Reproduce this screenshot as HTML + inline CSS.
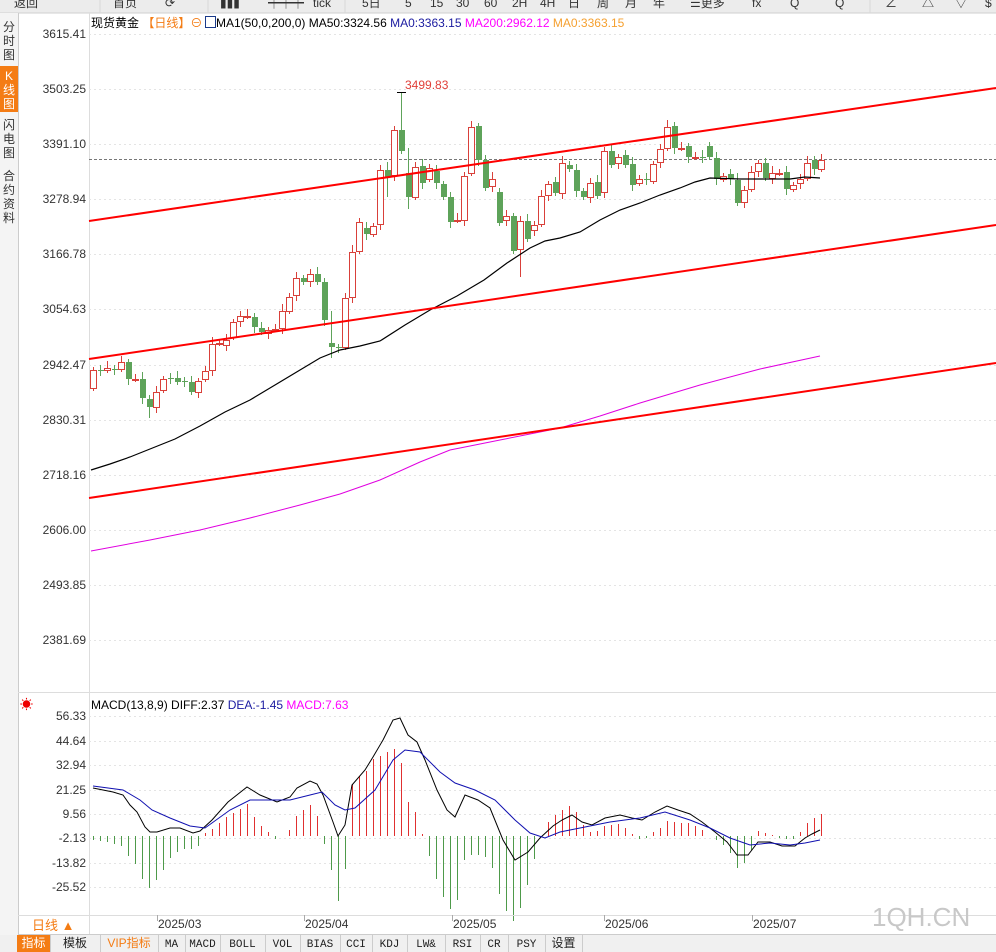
<!DOCTYPE html>
<html><head><meta charset="utf-8">
<style>
html,body{margin:0;padding:0;width:996px;height:952px;overflow:hidden;background:#fff;font-family:"Liberation Sans","Noto Sans CJK SC",sans-serif;}
svg text{font-family:"Liberation Sans","Noto Sans CJK SC",sans-serif;}
</style></head><body>
<svg id="s" width="996" height="952" xmlns="http://www.w3.org/2000/svg">
<rect x="0" y="0" width="996" height="13" fill="#ececec"/>
<line x1="0" y1="13" x2="996" y2="13" stroke="#cfcfcf"/>
<g font-size="12" fill="#333">
<text x="14" y="7">返回</text><text x="113" y="7">首页</text><text x="165" y="7">⟳</text>
<text x="220" y="7">▮▮▮</text><text x="268" y="7">┿┿┿</text><text x="313" y="7">tick</text>
<text x="362" y="7">5日</text><text x="405" y="7">5</text><text x="430" y="7">15</text>
<text x="456" y="7">30</text><text x="484" y="7">60</text><text x="512" y="7">2H</text>
<text x="540" y="7">4H</text><text x="568" y="7">日</text><text x="597" y="7">周</text>
<text x="625" y="7">月</text><text x="653" y="7">年</text><text x="690" y="7">☰更多</text>
<text x="752" y="7">fx</text><text x="790" y="7">Q</text><text x="835" y="7">Q</text>
<text x="885" y="7">∠</text><text x="922" y="7">△</text><text x="955" y="7">▽</text><text x="985" y="7">$</text>
</g>
<g stroke="#d8d8d8"><line x1="100" y1="0" x2="100" y2="13"/><line x1="208" y1="0" x2="208" y2="13"/><line x1="345" y1="0" x2="345" y2="13"/><line x1="870" y1="0" x2="870" y2="13"/></g>
<rect x="0" y="13" width="18" height="922" fill="#f4f4f4"/>
<line x1="18.5" y1="13" x2="18.5" y2="935" stroke="#ccc"/>
<rect x="0" y="66" width="18" height="46" fill="#f47c14"/>
<g font-size="12" fill="#333" text-anchor="middle">
<text x="9" y="31">分</text><text x="9" y="45">时</text><text x="9" y="59">图</text>
<text x="9" y="80" fill="#fff">K</text><text x="9" y="94" fill="#fff">线</text><text x="9" y="108" fill="#fff">图</text>
<text x="9" y="129">闪</text><text x="9" y="143">电</text><text x="9" y="157">图</text>
<text x="9" y="180">合</text><text x="9" y="194">约</text><text x="9" y="208">资</text><text x="9" y="222">料</text>
</g>
<line x1="89.5" y1="13" x2="89.5" y2="935" stroke="#ddd"/>
<line x1="18" y1="692.5" x2="996" y2="692.5" stroke="#ddd"/>
<g id="grid"></g>
<g id="ylab" font-size="12" fill="#333" text-anchor="end"></g>
<text x="91" y="27" font-size="12" fill="#000">现货黄金 <tspan fill="#f47c14">【日线】</tspan><tspan fill="#f47c14">⊖</tspan></text>
<rect x="205.5" y="16.5" width="10" height="11" fill="none" stroke="#1a3a8a"/>
<text x="216" y="27" font-size="12" fill="#000">MA1(50,0,200,0) MA50:3324.56 <tspan fill="#1a1aa0"> MA0:3363.15</tspan><tspan fill="#ff00ff">  MA200:2962.12</tspan><tspan fill="#f5a030">  MA0:3363.15</tspan></text>
<line x1="89" y1="159.5" x2="996" y2="159.5" stroke="#777" stroke-dasharray="3,2"/>
<g id="main"></g>
<polyline fill="none" stroke="#e000e0" stroke-width="1" points="91,551 150,540 200,530 250,518 300,505 340,494 380,480 420,462 450,450 500,440 560,428 600,416 640,403 700,385 760,369 820,356"/>
<polyline fill="none" stroke="#000" stroke-width="1.2" points="91,470 110,464 130,457 155,447 175,439 200,426 225,412 250,400 275,385 300,370 320,358 340,350 360,346 380,341 405,325 430,310 457,296 484,280 507,263 530,248 545,241 560,238 580,232 600,220 620,210 640,203 660,195 680,188 695,182 710,178 740,179 790,179 805,177 820,178"/>
<g stroke="#ff0000" stroke-width="2"><line x1="89" y1="221" x2="996" y2="88"/><line x1="89" y1="359" x2="996" y2="225"/><line x1="89" y1="498" x2="996" y2="363"/></g>
<text x="405" y="89" font-size="12" fill="#e0403a">3499.83</text>
<text x="20" y="709" font-size="13" fill="#e00">☀</text>
<text x="91" y="709" font-size="12" fill="#000">MACD(13,8,9) DIFF:2.37 <tspan fill="#1a1aa0"> DEA:-1.45</tspan><tspan fill="#ff00ff">  MACD:7.63</tspan></text>
<g id="mgrid"></g>
<g id="mlab" font-size="12" fill="#333" text-anchor="end"></g>
<g id="hist"></g>
<polyline id="diff" fill="none" stroke="#000" stroke-width="1"/>
<polyline id="dea" fill="none" stroke="#1010b0" stroke-width="1"/>
<line x1="18" y1="915.5" x2="996" y2="915.5" stroke="#ddd"/>
<line x1="18" y1="934.5" x2="996" y2="934.5" stroke="#ccc"/>
<text x="32" y="930" font-size="13" fill="#f47c14">日线 ▲</text>
<g font-size="12" fill="#333">
<text x="158" y="928">2025/03</text><text x="305" y="928">2025/04</text><text x="453" y="928">2025/05</text><text x="605" y="928">2025/06</text><text x="753" y="928">2025/07</text></g>
<g stroke="#aaa"><line x1="157.5" y1="915" x2="157.5" y2="921"/><line x1="304.5" y1="915" x2="304.5" y2="921"/><line x1="452.5" y1="915" x2="452.5" y2="921"/><line x1="604.5" y1="915" x2="604.5" y2="921"/><line x1="752.5" y1="915" x2="752.5" y2="921"/></g>
<text x="872" y="926" font-size="26" fill="#c8c8c8">1QH.CN</text>
<rect x="0" y="935" width="996" height="17" fill="#f0f0f0"/>
<rect x="17" y="935" width="33" height="17" fill="#f47c14"/>
<g id="tabs" fill="#222"></g>
</svg>
<script>
var S="http://www.w3.org/2000/svg";
function el(p,t,a,txt){var e=document.createElementNS(S,t);for(var k in a)e.setAttribute(k,a[k]);if(txt)e.textContent=txt;document.getElementById(p).appendChild(e);return e;}
var yl=[["3615.41",34],["3503.25",89],["3391.10",144],["3278.94",199],["3166.78",254],["3054.63",309],["2942.47",365],["2830.31",420],["2718.16",475],["2606.00",530],["2493.85",585],["2381.69",640]];
yl.forEach(function(a){el("grid","line",{x1:89,x2:996,y1:a[1]+.5,y2:a[1]+.5,stroke:"#e4e4e4","stroke-dasharray":"2,3"});el("ylab","text",{x:86,y:a[1]+4},a[0]);});
var ml=[["56.33",716],["44.64",741],["32.94",765],["21.25",790],["9.56",814],["-2.13",838],["-13.82",863],["-25.52",887]];
ml.forEach(function(a){el("mgrid","line",{x1:89,x2:996,y1:a[1]+.5,y2:a[1]+.5,stroke:"#e4e4e4","stroke-dasharray":"2,3"});el("mlab","text",{x:86,y:a[1]+4},a[0]);});
var C=[[388,370],[370,370],[370,368],[369,369],[369,362],[362,379],[379,379],[379,398],[399,407],[407,392],[390,379],[378,378],[378,382],[381,381],[382,392],[392,381],[379,371],[370,344],[343,343],[345,340],[337,322],[321,316],[316,316],[317,327],[328,332],[333,330],[329,329],[328,311],[311,297],[295,278],[278,282],[281,274],[274,282],[282,320],[343,347],[347,347],[347,298],[297,252],[251,222],[228,234],[234,226],[224,170],[170,177],[175,130],[130,151],[173,197],[197,167],[166,183],[179,168],[171,183],[184,197],[197,222],[220,220],[220,176],[173,127],[126,160],[160,188],[186,179],[192,223],[220,216],[216,251],[249,221],[221,239],[230,225],[224,196],[195,184],[182,193],[193,163],[165,169],[170,191],[191,197],[197,183],[182,196],[192,151],[151,165],[163,157],[155,165],[164,185],[183,179],[179,179],[181,164],[162,149],[148,127],[126,148],[148,148],[146,157],[157,157],[157,157],[146,157],[158,179],[179,176],[174,179],[180,203],[202,190],[189,172],[171,163],[163,178],[178,173],[173,173],[172,189],[189,185],[183,179],[178,163],[160,169],[169,160]];
var W={8:[0,418],34:[311,358],44:[92,0],45:[148,209],61:[0,277],42:[162,197]};
C.forEach(function(c,i){var x=93+7*i,o=c[0],cl=c[1];var up=cl<o||(cl==o&&i%2==0);var col=up?"#d9403a":"#5ea35a";
var hi=Math.min(o,cl)-3-(i*7%5),lo=Math.max(o,cl)+3+(i*3%6);if(W[i]){if(W[i][0])hi=W[i][0];if(W[i][1])lo=W[i][1];}
el("main","line",{x1:x+.5,x2:x+.5,y1:hi,y2:lo,stroke:col,"stroke-width":1});
var t=Math.min(o,cl),h=Math.max(1,Math.abs(o-cl));
if(up)el("main","rect",{x:x-2.5,y:t+.5,width:6,height:h,fill:"#fff",stroke:col,"stroke-width":1});
else el("main","rect",{x:x-2,y:t,width:6,height:h,fill:col});});
el("main","line",{x1:397,x2:406,y1:92.5,y2:92.5,stroke:"#000"});
var D=[[93,788],[113,792],[123,795],[130,805],[137,812],[145,827],[150,832],[157,832],[170,828],[180,828],[193,833],[200,831],[212,820],[228,802],[247,787],[260,795],[277,802],[290,797],[297,788],[310,781],[317,784],[323,795],[333,822],[338,836],[345,825],[352,785],[365,770],[373,757],[383,740],[393,720],[400,718],[408,735],[417,742],[425,760],[437,790],[447,810],[455,817],[465,795],[478,800],[490,808],[503,840],[515,860],[528,852],[540,838],[553,826],[562,820],[572,815],[582,822],[592,825],[605,818],[620,815],[632,818],[642,820],[655,812],[667,806],[678,810],[690,814],[702,822],[715,832],[727,842],[737,855],[748,855],[758,842],[770,842],[782,846],[795,846],[805,838],[812,834],[820,830]];
var E=[[93,786],[123,790],[140,800],[152,810],[170,818],[190,826],[205,828],[230,810],[250,800],[270,800],[290,800],[310,795],[322,792],[335,805],[345,810],[355,808],[375,790],[393,760],[405,750],[420,752],[440,772],[455,783],[475,790],[495,800],[515,820],[530,833],[545,838],[560,832],[580,828],[610,822],[640,818],[665,812],[690,820],[710,828],[730,838],[750,845],[770,843],[790,845],[805,843],[820,840]];
function pts(a){return a.map(function(p){return p.join(",")}).join(" ");}
document.getElementById("diff").setAttribute("points",pts(D));
document.getElementById("dea").setAttribute("points",pts(E));
function interp(a,x){for(var i=1;i<a.length;i++){if(x<=a[i][0]){var p=a[i-1],q=a[i],t=(x-p[0])/(q[0]-p[0]);return p[1]+t*(q[1]-p[1]);}}return a[a.length-1][1];}
for(var i=0;i<105;i++){var x=93+7*i;var v=(interp(E,x)-interp(D,x))*2.2;var z=836;
el("hist","line",{x1:x+.5,x2:x+.5,y1:z,y2:Math.round(z-v),stroke:v>0?"#e03030":"#4e9a4a","stroke-width":1});}
var tabs=[["指标",17,50,"#fff",12],["模板",50,100,0,12],["VIP指标",100,158,"#f47c14",12],["MA",158,185],["MACD",185,220],["BOLL",220,265],["VOL",265,300],["BIAS",300,340],["CCI",340,372],["KDJ",372,407],["LW&",407,445],["RSI",445,480],["CR",480,508],["PSY",508,545],["设置",545,582,0,12]];
tabs.forEach(function(t){var e=el("tabs","text",{x:(t[1]+t[2])/2,y:947,"text-anchor":"middle",fill:t[3]||"#222","font-size":t[4]||11},t[0]);if(!t[4])e.setAttribute("style","font-family:'Liberation Mono',monospace");el("tabs","line",{x1:t[2]+.5,x2:t[2]+.5,y1:935,y2:952,stroke:"#ccc"});});
</script>
</body></html>
